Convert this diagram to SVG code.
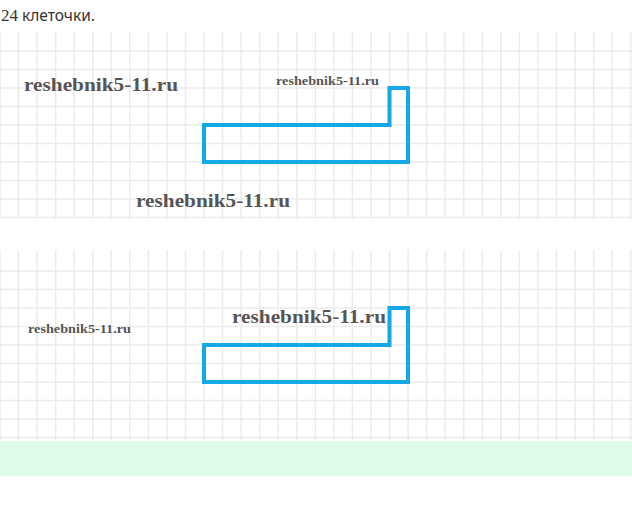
<svg xmlns="http://www.w3.org/2000/svg" width="632" height="509" viewBox="0 0 632 509">
<style>
.grid{stroke:#ebebeb;stroke-width:1.5;fill:none}
.shape{fill:none;stroke:#14a8e6;stroke-width:4;stroke-linejoin:miter}
.wm{font-family:"Liberation Serif",serif;font-weight:bold;fill:#555555;stroke:#ffffff;stroke-width:0.6;paint-order:stroke}
.big{font-size:19px}
.small{font-size:13px}
</style>
<rect width="632" height="509" fill="#ffffff"/>
<text x="1" y="21" fill="#333333"><tspan font-family="Liberation Serif, serif" font-size="17">24</tspan><tspan font-family="Noto Sans, Liberation Sans, sans-serif" font-size="15.5"> клеточки.</tspan></text>
<g id="grid1">
<path class="grid" d="M0 32V219M18.55 32V219M37.1 32V219M55.65 32V219M74.2 32V219M92.75 32V219M111.3 32V219M129.85 32V219M148.4 32V219M166.95 32V219M185.5 32V219M204.05 32V219M222.6 32V219M241.15 32V219M259.7 32V219M278.25 32V219M296.8 32V219M315.35 32V219M333.9 32V219M352.45 32V219M371 32V219M389.55 32V219M408.1 32V219M426.65 32V219M445.2 32V219M463.75 32V219M482.3 32V219M500.85 32V219M519.4 32V219M537.95 32V219M556.5 32V219M575.05 32V219M593.6 32V219M612.15 32V219M630.7 32V219M0 51H632M0 69.5H632M0 88H632M0 106.5H632M0 125H632M0 143.5H632M0 162H632M0 180.5H632M0 199H632M0 217.5H632"/>
</g>
<g id="grid2">
<path class="grid" d="M0 250V440M18.55 250V440M37.1 250V440M55.65 250V440M74.2 250V440M92.75 250V440M111.3 250V440M129.85 250V440M148.4 250V440M166.95 250V440M185.5 250V440M204.05 250V440M222.6 250V440M241.15 250V440M259.7 250V440M278.25 250V440M296.8 250V440M315.35 250V440M333.9 250V440M352.45 250V440M371 250V440M389.55 250V440M408.1 250V440M426.65 250V440M445.2 250V440M463.75 250V440M482.3 250V440M500.85 250V440M519.4 250V440M537.95 250V440M556.5 250V440M575.05 250V440M593.6 250V440M612.15 250V440M630.7 250V440M0 271H632M0 289.5H632M0 308H632M0 326.5H632M0 345H632M0 363.5H632M0 382H632M0 400.5H632M0 419H632M0 437.5H632"/>
</g>
<g id="figure1">
<path class="shape" d="M204 125H389.5V88H408V162H204Z"/>
</g>
<g id="figure2">
<path class="shape" d="M204 345H389.5V308H408V382H204Z"/>
</g>
<g id="watermarks">
<text class="wm big" x="24" y="90.5" textLength="154" lengthAdjust="spacingAndGlyphs">reshebnik5-11.ru</text>
<text class="wm small" x="276" y="85" textLength="103" lengthAdjust="spacingAndGlyphs">reshebnik5-11.ru</text>
<text class="wm big" x="136" y="206.5" textLength="154" lengthAdjust="spacingAndGlyphs">reshebnik5-11.ru</text>
<text class="wm small" x="28" y="333" textLength="103" lengthAdjust="spacingAndGlyphs">reshebnik5-11.ru</text>
<text class="wm big" x="232" y="322.5" textLength="154" lengthAdjust="spacingAndGlyphs">reshebnik5-11.ru</text>
</g>
<rect id="band" x="0" y="441" width="632" height="35" fill="#ddfde8"/>
</svg>
